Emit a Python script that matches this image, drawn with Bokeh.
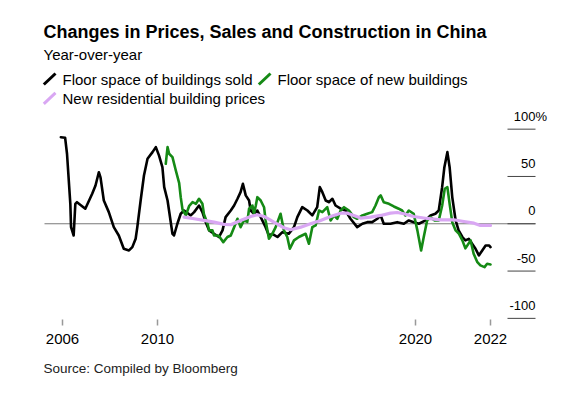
import numpy as np
from bokeh.plotting import figure
from bokeh.models import Range1d, FixedTicker, Title
from bokeh.core.properties import value
from bokeh.embed import file_html
from bokeh.resources import INLINE

TITLE = "Changes in Prices, Sales and Construction in China"
SUBTITLE = "Year-over-year"
SOURCE = "Source: Compiled by Bloomberg"
SERIES_NAMES = ["Floor space of buildings sold", "Floor space of new buildings",
                "New residential building prices"]
SERIES_COLORS = ["#000000", "#158a15", "#d9a7f3"]

X_TICK_YEARS = [2006, 2010, 2020, 2022]
X_TICK_LABELS = ["2006", "2010", "2020", "2022"]
Y_TICKS = [-100, -50, 0, 50, 100]
Y_TICK_LABELS = ["-100", "-50", "0", "50", "100"]
Y_TOP_SUFFIX = "%"

# Floor space of buildings sold, YoY %
sold_t = [2005.93, 2006.11, 2006.19, 2006.33, 2006.36, 2006.47, 2006.54, 2006.61, 2006.96,
          2007.25, 2007.39, 2007.53, 2007.60, 2007.74, 2007.95, 2008.16, 2008.37, 2008.58,
          2008.80, 2008.94, 2009.08, 2009.15, 2009.29, 2009.43, 2009.58, 2009.79, 2009.93,
          2010.06, 2010.19, 2010.26, 2010.39, 2010.58, 2010.64, 2010.77, 2010.90, 2011.03,
          2011.29, 2011.42, 2011.61, 2011.74, 2011.87, 2012.00, 2012.19, 2012.38, 2012.52,
          2012.64, 2012.84, 2012.97, 2013.10, 2013.22, 2013.31, 2013.42, 2013.55, 2013.61,
          2013.74, 2013.87, 2014.00, 2014.19, 2014.32, 2014.45, 2014.65, 2014.84, 2015.09,
          2015.29, 2015.42, 2015.61, 2015.81, 2016.00, 2016.19, 2016.29, 2016.39, 2016.52,
          2016.64, 2016.78, 2016.90, 2017.10, 2017.29, 2017.48, 2017.74, 2017.94, 2018.13,
          2018.32, 2018.52, 2018.65, 2018.77, 2019.03, 2019.29, 2019.55, 2019.74, 2019.93,
          2020.09, 2020.27, 2020.40, 2020.53, 2020.62, 2020.71, 2020.77, 2020.85, 2020.91,
          2020.98, 2021.07, 2021.15, 2021.25, 2021.33, 2021.42, 2021.51, 2021.60, 2021.69,
          2021.78, 2021.87, 2021.96, 2022.00]
sold_v = [91.5, 91, 74, 21, -3.6, -12.4, 21, 22.8, 15.9,
          31.7, 40.5, 54.5, 49, 24.6, 12.3, -3.6, -12.4, -26.4,
          -28.2, -24.7, -15.9, -3.6, 24.6, 51, 68.7, 75.7, 81,
          72, 59.8, 38.7, 24.6, -10.6, -12.4, 0, 10.6, 14,
          8.8, 12.3, 19.3, 12.3, 1.7, -7, -10.6, -14, -7,
          7, 14, 19.3, 26.4, 33.4, 42.3, 30, 24.6, 14,
          10.6, 14, 7, -3.6, -12.4, -10.6, -14, -8.9, -10.6,
          -3.6, 7, 17.6, 14, 8.8, 17.6, 38.7, 33.4, 24.6,
          22.8, 26.4, 19.3, 15.9, 14, 5.3, -3.6, 0, 1.7,
          1.7, 5.3, 8.8, 0, 0, 1.7, 0, 3.5, 1.7,
          0, 3.5, 8.8, 10.6, 14, 38.7, 59.8, 75.7, 59.8,
          28.2, 3.5, -7, -14, -17.6, -15.9, -21.1, -26.4, -33.5,
          -28.2, -22.9, -22.9, -24.7]

# Floor space of new buildings, YoY %
new_t = [2010.32, 2010.39, 2010.45, 2010.58, 2010.71, 2010.84, 2010.90, 2010.97, 2011.10,
         2011.23, 2011.36, 2011.49, 2011.61, 2011.74, 2011.80, 2011.94, 2012.00, 2012.13,
         2012.19, 2012.32, 2012.38, 2012.55, 2012.71, 2012.84, 2012.97, 2013.10, 2013.22,
         2013.35, 2013.48, 2013.55, 2013.68, 2013.74, 2013.81, 2013.87, 2014.00, 2014.13,
         2014.19, 2014.32, 2014.45, 2014.58, 2014.77, 2014.90, 2015.03, 2015.13, 2015.29,
         2015.48, 2015.74, 2015.87, 2016.00, 2016.13, 2016.26, 2016.39, 2016.58, 2016.71,
         2016.84, 2016.97, 2017.10, 2017.23, 2017.42, 2017.61, 2017.74, 2017.94, 2018.13,
         2018.32, 2018.45, 2018.58, 2018.65, 2018.77, 2018.97, 2019.16, 2019.35, 2019.48,
         2019.61, 2019.74, 2019.93, 2020.05, 2020.15, 2020.22, 2020.31, 2020.40, 2020.51,
         2020.62, 2020.71, 2020.78, 2020.85, 2020.91, 2020.98, 2021.07, 2021.16, 2021.25,
         2021.33, 2021.47, 2021.55, 2021.65, 2021.73, 2021.84, 2021.91, 2022.00]
new_v = [63.4, 81, 74, 70.4, 56.3, 43, 28.1, 15, 9,
         19, 22.8, 21.1, 26.4, 21.1, 10, 0, -7, -7,
         -12.4, -12.4, -13, -19.4, -14, -12.4, -3.6, 5.3, -3.6,
         3.5, 2, 15.9, 19.3, 10.6, 19.3, 28.1, 24.6, 17.5,
         3.5, -15.9, -10.6, -3.6, 10.6, -7, -14, -26.4, -17.6,
         -14, -10.6, -21.1, -3.6, -1.8, 14, 12.3, 17.5, 3.5,
         8.8, 5.3, 14, 17.5, 14, 7, 5.3, 8.8, 10.6,
         12.3, 19.3, 28.1, 30, 22.8, 21.1, 18.3, 15.9, 14,
         8.8, 14, 10.6, -7, -28.2, -14, 3.5, 7, 3.5,
         3.5, 19, 37, 38.7, 21.1, 1.7, -7, -10.6, -17.6,
         -26, -17.6, -31.7, -40.6, -44, -45.8, -42.3, -43]

# New residential building prices, YoY %
price_t = [2011.03, 2011.42, 2011.80, 2012.19, 2012.58, 2012.84, 2013.22, 2013.61, 2013.87,
           2014.13, 2014.51, 2014.90, 2015.16, 2015.55, 2015.93, 2016.32, 2016.71, 2017.10,
           2017.36, 2017.61, 2017.87, 2018.26, 2018.65, 2019.03, 2019.29, 2019.55, 2019.93,
           2020.31, 2020.67, 2021.02, 2021.29, 2021.56, 2021.73, 2022.00]
price_v = [7, 5.3, 3.5, 1.7, -0.7, -1, 3.5, 7.7, 9.5,
           7.7, 1.7, -4.2, -6.3, -3.6, 0, 3.5, 7.7, 11.2,
           11.2, 8.8, 6, 7, 8.8, 11.2, 11.9, 10.6, 7.7,
           5.6, 4.2, 4.2, 2.4, 0.6, -1.8, -1.8]

# the time axis of the original is piecewise (uneven spacing between labelled years)
X_TICK_POS = [18, 113, 371, 446]


def to_axis(years):
    yrs = [2005] + X_TICK_YEARS + [2023]
    pos = [X_TICK_POS[0] - 23.6] + X_TICK_POS + [X_TICK_POS[-1] + 37.5]
    return np.interp(np.asarray(years, float), yrs, pos)


FONT = value("Liberation Sans")

# frame covers page x 40..550, y 0..319; header drawn in a pixel-like extra range
p = figure(width=572, height=390, title=None,
           x_range=Range1d(-4, 506), y_range=Range1d(-101.2, 236.0),
           output_backend="svg", toolbar_location=None,
           min_border_left=40, min_border_right=22, min_border_top=0, min_border_bottom=71,
           y_axis_type=None)
p.grid.visible = False
p.outline_line_color = None
p.extra_x_ranges = {"px": Range1d(40, 550)}
p.extra_y_ranges = {"px": Range1d(319, 0)}

# ---------------- header (title, subtitle, legend) ----------------
hdr = dict(x_range_name="px", y_range_name="px")
p.text(x=[43], y=[31.7], text=[TITLE], text_font=FONT, text_font_size="18px",
       text_font_style="bold", text_baseline="alphabetic", text_color="#000000", **hdr)
p.text(x=[43], y=[53.5], text=[SUBTITLE], text_font=FONT, text_font_size="15px",
       text_baseline="alphabetic", text_color="#000000", **hdr)

leg_text_x = [62, 277, 62]
leg_text_y = [78.5, 78.5, 97.5]
leg_icon_x = [43.3, 258.3, 43.3]
leg_icon_y = [84, 84, 103.3]
for i in range(3):
    p.segment(x0=[leg_icon_x[i]], y0=[leg_icon_y[i]], x1=[leg_icon_x[i] + 11.7],
              y1=[leg_icon_y[i] - 11], line_color=SERIES_COLORS[i], line_width=3,
              line_cap="butt", **hdr)
    p.text(x=[leg_text_x[i]], y=[leg_text_y[i]], text=[SERIES_NAMES[i]], text_font=FONT,
           text_font_size="15px", text_baseline="alphabetic", text_color="#000000", **hdr)

# ---------------- main chart ----------------
tick_x0 = 463
tick_x1 = 491
p.segment(x0=[0], y0=[0], x1=[tick_x1], y1=[0], line_color="#7a7a7a", line_width=1)
p.segment(x0=[tick_x0] * len(Y_TICKS), y0=Y_TICKS, x1=[tick_x1] * len(Y_TICKS), y1=Y_TICKS,
          line_color="#444444", line_width=1)
p.text(x=[tick_x1] * len(Y_TICKS), y=Y_TICKS, text=Y_TICK_LABELS, text_font=FONT,
       text_font_size="13px", text_align="right", text_baseline="alphabetic",
       y_offset=-13, text_color="#000000")
p.text(x=[tick_x1], y=[Y_TICKS[-1]], text=[Y_TOP_SUFFIX], text_font=FONT,
       text_font_size="13px", text_align="left", text_baseline="alphabetic",
       y_offset=-13, text_color="#000000")

series = [(sold_t, sold_v), (new_t, new_v), (price_t, price_v)]
widths = [2.6, 2.6, 3.2]
for (t, v), c, w in zip(series, SERIES_COLORS, widths):
    p.line(to_axis(t), v, line_color=c, line_width=w, line_join="round", line_cap="round")

xa = p.xaxis[0]
xa.ticker = FixedTicker(ticks=X_TICK_POS)
xa.major_label_overrides = {pos: lab for pos, lab in zip(X_TICK_POS, X_TICK_LABELS)}
xa.axis_line_color = None
xa.major_tick_line_color = "#999999"
xa.major_tick_line_width = 1.5
xa.major_tick_in = 0
xa.major_tick_out = 6
xa.minor_tick_line_color = None
xa.major_label_standoff = 8
xa.major_label_text_font = "Liberation Sans"
xa.major_label_text_font_size = "15px"
xa.major_label_text_color = "#000000"

p.add_layout(Title(text=SOURCE, align="left", text_font="Liberation Sans",
                   text_font_size="13.5px", text_font_style="normal",
                   text_color="#222222", standoff=25, offset=3), "below")

open("out.html", "w").write(file_html(p, INLINE))
